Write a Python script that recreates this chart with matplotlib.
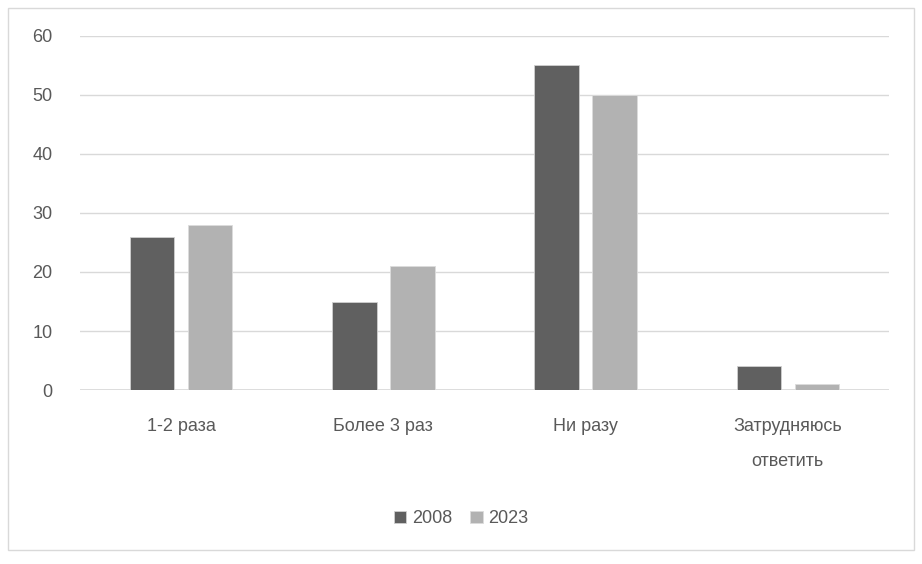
import numpy as np
import matplotlib.pyplot as plt
from matplotlib.patches import Rectangle

categories = ['1-2 раза', 'Более 3 раз', 'Ни разу', 'Затрудняюсь\nответить']
values_2008 = [26, 15, 55, 4]
values_2023 = [28, 21, 50, 1]
series_labels = ['2008', '2023']

plt.rcParams['font.family'] = ['Liberation Sans', 'DejaVu Sans']

fig = plt.figure(figsize=(9.22, 5.64), dpi=100)
ax = fig.add_axes([0.0868, 0.3085, 0.8774, 0.6277])

x = np.arange(len(categories))
w = 0.22
ax.bar(x - 0.143, values_2008, w, color='#606060', edgecolor='#d0d0d0', linewidth=0.6,
       label=series_labels[0], zorder=3)
ax.bar(x + 0.143, values_2023, w, color='#b2b2b2', edgecolor='#dcdcdc', linewidth=0.6,
       label=series_labels[1], zorder=3)

ax.set_xlim(-0.5, 3.5)
ax.set_ylim(0, 60)
ax.set_yticks(range(0, 61, 10))
ax.yaxis.grid(True, color='#d9d9d9', linewidth=1, zorder=0)
ax.axhline(0, color='#d9d9d9', linewidth=1.2, zorder=1)
for s in ax.spines.values():
    s.set_visible(False)
ax.tick_params(axis='both', length=0, labelsize=13, labelcolor='#595959')
ax.tick_params(axis='y', pad=20)
ax.tick_params(axis='x', pad=20)
ax.set_xticks(x)
ax.set_xticklabels(categories, linespacing=2.4)

ax.legend(loc='center', bbox_to_anchor=(0.5, 0.08), bbox_transform=fig.transFigure,
          ncol=2, frameon=False, fontsize=13, labelcolor='#595959',
          handlelength=0.7, handleheight=0.7, handletextpad=0.3, columnspacing=1.0)

fig.patches.append(Rectangle((0.009, 0.025), 0.982, 0.96, transform=fig.transFigure,
                             fill=False, edgecolor='#d9d9d9', linewidth=1))

fig.savefig('out.png', dpi=100)
